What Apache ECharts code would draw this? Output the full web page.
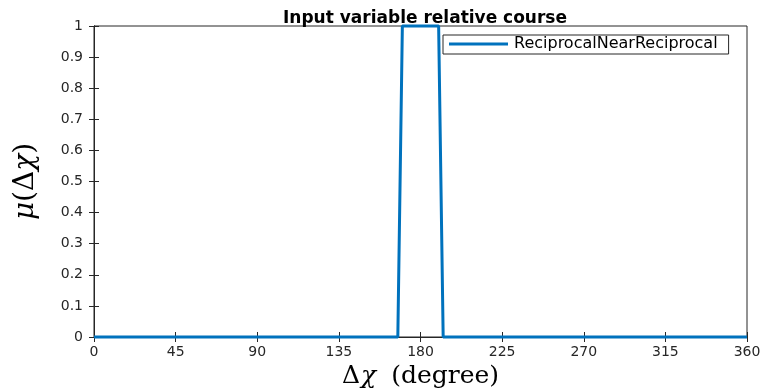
<!DOCTYPE html>
<html>
<head>
<meta charset="utf-8">
<script src="https://cdn.jsdelivr.net/npm/echarts@6/dist/echarts.min.js"></script>
<style>
html,body{margin:0;padding:0;background:#fff;}
#chart{width:765px;height:388px;}
</style>
</head>
<body>
<div id="chart"></div>
<script>
// Membership function for the relative course input (degrees)
const courseDeg = [0, 167.5, 170, 190, 192.5, 360];
const membership = [0, 0, 1, 1, 0, 0];
const seriesName = 'ReciprocalNearReciprocal';
const xTicks = [0, 45, 90, 135, 180, 225, 270, 315, 360];
const yTicks = [0, 0.1, 0.2, 0.3, 0.4, 0.5, 0.6, 0.7, 0.8, 0.9, 1];

const axisColor = '#262626';
const sans = '"DejaVu Sans", "Liberation Sans", sans-serif';
const serif = '"DejaVu Serif", "Liberation Serif", serif';

const chart = echarts.init(document.getElementById('chart'), null, {renderer: 'canvas'});

const baseAxis = {
  type: 'value',
  axisLine: {show: true, lineStyle: {color: axisColor, width: 1}},
  axisTick: {show: true, inside: true, length: 5, lineStyle: {color: axisColor, width: 1}},
  splitLine: {show: false}
};

chart.setOption({
  animation: false,
  backgroundColor: '#ffffff',
  title: {
    text: 'Input variable relative course',
    left: 420, top: 5, textAlign: 'center',
    textStyle: {fontFamily: sans, fontSize: 17, fontWeight: 'bold', color: '#000'}
  },
  legend: {
    data: [{name: seriesName}],
    left: 443, top: 35,
    orient: 'vertical',
    icon: 'rect',
    itemWidth: 59, itemHeight: 3,
    itemGap: 0,
    padding: [1, 11, 2, 6],
    borderColor: axisColor, borderWidth: 1,
    backgroundColor: '#fff',
    textStyle: {fontFamily: sans, fontSize: 16, color: '#000', padding: [0, 0, 0, 1]}
  },
  grid: {left: 94, right: 18, top: 26, bottom: 51, show: true, borderColor: axisColor, borderWidth: 1,
    outerBoundsMode: 'none', containLabel: false},
  xAxis: [
    Object.assign({}, baseAxis, {
      min: xTicks[0], max: xTicks[xTicks.length - 1], interval: 45,
      position: 'bottom',
      axisLabel: {fontFamily: sans, fontSize: 14, color: axisColor, margin: 8},
      name: '{d|Δ}{c|χ}{p|(degree)}',
      nameLocation: 'middle', nameGap: 16,
      nameTextStyle: {
        rich: {
          d: {fontFamily: serif, fontSize: 25, color: '#000', padding: [0, 1, 0, 0]},
          c: {fontFamily: serif, fontSize: 25, fontStyle: 'italic', color: '#000', padding: [0, 15, 0, 0]},
          p: {fontFamily: serif, fontSize: 25, color: '#000'}
        }
      }
    }),
    Object.assign({}, baseAxis, {
      min: xTicks[0], max: xTicks[xTicks.length - 1], interval: 45,
      position: 'top', axisLabel: {show: false}
    })
  ],
  yAxis: [
    Object.assign({}, baseAxis, {
      min: yTicks[0], max: yTicks[yTicks.length - 1], interval: 0.1,
      position: 'left',
      axisLabel: {fontFamily: sans, fontSize: 14, color: axisColor, margin: 11,
        formatter: v => String(Math.round(v * 10) / 10)},
      name: '{m|μ}{p|(Δ}{c|χ}{p|)}',
      nameLocation: 'middle', nameGap: 54, nameRotate: 90,
      nameTextStyle: {
        rich: {
          m: {fontFamily: serif, fontSize: 28, fontStyle: 'italic', color: '#000'},
          c: {fontFamily: serif, fontSize: 28, fontStyle: 'italic', color: '#000'},
          p: {fontFamily: serif, fontSize: 28, color: '#000'}
        }
      }
    }),
    Object.assign({}, baseAxis, {
      min: yTicks[0], max: yTicks[yTicks.length - 1], interval: 0.1,
      position: 'right', axisLabel: {show: false}
    })
  ],
  series: [{
    name: seriesName,
    type: 'line',
    data: courseDeg.map((x, i) => [x, membership[i]]),
    showSymbol: false,
    symbol: 'none',
    lineStyle: {color: '#0072BD', width: 3},
    itemStyle: {color: '#0072BD'},
    clip: false
  }]
});
</script>
</body>
</html>
